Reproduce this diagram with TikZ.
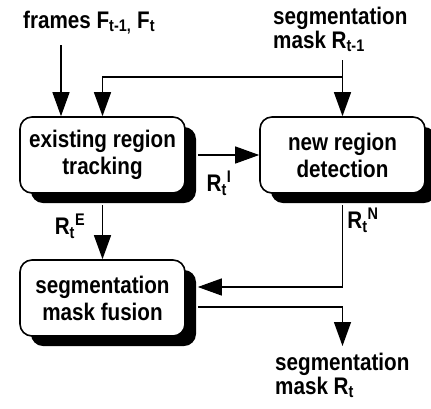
\documentclass[tikz,border=0pt]{standalone}
\usepackage{fontspec}
\setmainfont[FakeStretch=0.86]{Liberation Sans}
\usetikzlibrary{arrows.meta,shadows,positioning}

\begin{document}
\begin{tikzpicture}[x=1pt, y=-1pt,
    block/.style={draw, rounded corners=12pt, line width=1.6pt, fill=white,
      minimum width=165pt, minimum height=76pt, align=center,
      font=\bfseries\fontsize{24}{27}\selectfont,
      drop shadow={shadow xshift=11pt, shadow yshift=-10pt, fill=black, opacity=1}},
    txt/.style={inner sep=0pt, font=\bfseries\fontsize{24}{20.5}\selectfont},
    arrow/.style={-{Triangle[length=24pt, width=17pt]}, line width=1.3pt}
  ]
  \useasboundingbox (0,0) rectangle (431,408);

  % processing blocks
  \node[block] (track) at (102.5,155) {existing region\\tracking};
  \node[block] (detect) at (342.5,155) {new region\\detection};
  \node[block] (fusion) at (102.5,298) {segmentation\\mask fusion};

  % inputs and output
  \node[txt, anchor=base west] (frames) at (23,28) {frames F\textsubscript{t-1,} F\textsubscript{t}};
  \node[txt, align=left, anchor=north west] (maskin) at (273,7) {segmentation\\mask R\textsubscript{t-1}};
  \node[txt, align=left, anchor=north west] (maskout) at (275,353) {segmentation\\mask R\textsubscript{t}};

  \coordinate (fstart) at (61,45);
  \coordinate (mstart) at (342.5,60);
  \coordinate (fork) at (342.5,77);
  \coordinate (outend) at (342.5,346);

  \draw[arrow] (fstart) -- (fstart |- track.north);
  \draw[arrow] (mstart) -- (detect.north);
  \draw[arrow] (fork) -- (fork -| track.north) -- (track.north);

  \draw[arrow] ([xshift=12pt]track.east) -- (detect.west);
  \draw[arrow] ([yshift=-11pt]track.south) -- (fusion.north);
  \draw[arrow] ([yshift=-11pt]detect.south) |- ([xshift=12pt, yshift=11pt]fusion.east);
  \draw[arrow] ([xshift=12pt, yshift=-9pt]fusion.east) -| (outend);

  % region labels
  \node[txt] (ri) at (219,183) {R\textsubscript{t}\textsuperscript{I}};
  \node[txt] (re) at (70,226) {R\textsubscript{t}\textsuperscript{E}};
  \node[txt] (rn) at (363,220) {R\textsubscript{t}\textsuperscript{N}};
\end{tikzpicture}
\end{document}
